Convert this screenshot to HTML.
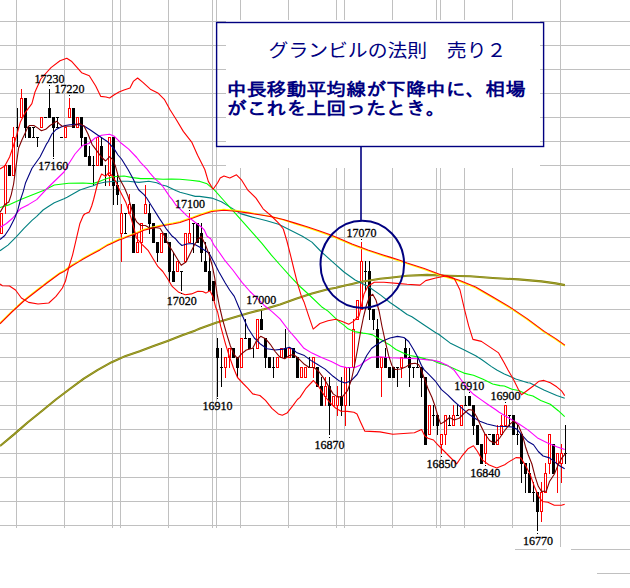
<!DOCTYPE html>
<html lang="ja">
<head>
<meta charset="utf-8">
<title>グランビルの法則 売り２</title>
<style>
html,body{margin:0;padding:0;background:#fff;}
body{width:630px;height:588px;overflow:hidden;font-family:'Liberation Sans','IPAGothic','Noto Sans CJK JP',sans-serif;}
svg{display:block;}
</style>
</head>
<body>
<svg width="630" height="588" viewBox="0 0 630 588">
<rect x="0" y="0" width="630" height="588" fill="#ffffff"/>
<g shape-rendering="crispEdges">
<rect x="0" y="21" width="630" height="1" fill="#c0c0c0"/>
<rect x="0" y="45" width="630" height="1" fill="#c0c0c0"/>
<rect x="0" y="69" width="630" height="1" fill="#c0c0c0"/>
<rect x="0" y="93" width="630" height="1" fill="#c0c0c0"/>
<rect x="0" y="117" width="630" height="1" fill="#c0c0c0"/>
<rect x="0" y="141" width="630" height="1" fill="#c0c0c0"/>
<rect x="0" y="165" width="630" height="1" fill="#c0c0c0"/>
<rect x="0" y="189" width="630" height="1" fill="#c0c0c0"/>
<rect x="0" y="213" width="630" height="1" fill="#c0c0c0"/>
<rect x="0" y="237" width="630" height="1" fill="#c0c0c0"/>
<rect x="0" y="261" width="630" height="1" fill="#c0c0c0"/>
<rect x="0" y="285" width="630" height="1" fill="#c0c0c0"/>
<rect x="0" y="309" width="630" height="1" fill="#c0c0c0"/>
<rect x="0" y="333" width="630" height="1" fill="#c0c0c0"/>
<rect x="0" y="357" width="630" height="1" fill="#c0c0c0"/>
<rect x="0" y="381" width="630" height="1" fill="#c0c0c0"/>
<rect x="0" y="405" width="630" height="1" fill="#c0c0c0"/>
<rect x="0" y="429" width="630" height="1" fill="#c0c0c0"/>
<rect x="0" y="453" width="630" height="1" fill="#c0c0c0"/>
<rect x="0" y="477" width="630" height="1" fill="#c0c0c0"/>
<rect x="0" y="501" width="630" height="1" fill="#c0c0c0"/>
<rect x="0" y="525" width="630" height="1" fill="#c0c0c0"/>
<rect x="16" y="0" width="1" height="528" fill="#c0c0c0"/>
<rect x="64" y="0" width="1" height="528" fill="#c0c0c0"/>
<rect x="112" y="0" width="1" height="528" fill="#c0c0c0"/>
<rect x="120" y="0" width="1" height="528" fill="#c0c0c0"/>
<rect x="168" y="0" width="1" height="528" fill="#c0c0c0"/>
<rect x="212" y="0" width="1" height="528" fill="#c0c0c0"/>
<rect x="216" y="0" width="1" height="528" fill="#c0c0c0"/>
<rect x="240" y="0" width="1" height="528" fill="#c0c0c0"/>
<rect x="288" y="0" width="1" height="528" fill="#c0c0c0"/>
<rect x="336" y="0" width="1" height="528" fill="#c0c0c0"/>
<rect x="344" y="0" width="1" height="528" fill="#c0c0c0"/>
<rect x="392" y="0" width="1" height="528" fill="#c0c0c0"/>
<rect x="436" y="0" width="1" height="528" fill="#c0c0c0"/>
<rect x="440" y="0" width="1" height="528" fill="#c0c0c0"/>
<rect x="464" y="0" width="1" height="528" fill="#c0c0c0"/>
<rect x="512" y="0" width="1" height="528" fill="#c0c0c0"/>
<rect x="560" y="0" width="1" height="547" fill="#c0c0c0"/>
<rect x="515" y="549" width="32" height="1" fill="#c0c0c0"/>
<rect x="571" y="549" width="59" height="1" fill="#c0c0c0"/>
<rect x="597" y="573" width="33" height="1" fill="#c0c0c0"/>
<rect x="226" y="20" width="314" height="148" fill="#fff"/>
</g>
<g shape-rendering="crispEdges">
<rect x="0" y="213" width="3" height="21" fill="#ff0000"/>
<rect x="1" y="214" width="1" height="19" fill="#fff"/>
<rect x="5" y="204" width="1" height="10" fill="#ff0000"/>
<rect x="4" y="165" width="3" height="40" fill="#ff0000"/>
<rect x="5" y="166" width="1" height="38" fill="#fff"/>
<rect x="8" y="165" width="3" height="11" fill="#000000"/>
<rect x="13" y="127" width="1" height="10" fill="#ff0000"/>
<rect x="12" y="137" width="3" height="39" fill="#ff0000"/>
<rect x="13" y="138" width="1" height="37" fill="#fff"/>
<rect x="17" y="108" width="1" height="39" fill="#000000"/>
<rect x="16" y="127" width="3" height="1" fill="#000000"/>
<rect x="21" y="89" width="1" height="9" fill="#ff0000"/>
<rect x="20" y="98" width="3" height="20" fill="#ff0000"/>
<rect x="21" y="99" width="1" height="18" fill="#fff"/>
<rect x="25" y="127" width="1" height="11" fill="#000000"/>
<rect x="24" y="98" width="3" height="30" fill="#000000"/>
<rect x="28" y="127" width="3" height="11" fill="#000000"/>
<rect x="33" y="127" width="1" height="11" fill="#000000"/>
<rect x="32" y="127" width="3" height="1" fill="#000000"/>
<rect x="32" y="137" width="3" height="1" fill="#000000"/>
<rect x="37" y="137" width="1" height="10" fill="#000000"/>
<rect x="36" y="137" width="3" height="1" fill="#000000"/>
<rect x="40" y="117" width="3" height="11" fill="#ff0000"/>
<rect x="41" y="118" width="1" height="9" fill="#fff"/>
<rect x="44" y="117" width="3" height="1" fill="#000000"/>
<rect x="49" y="89" width="1" height="19" fill="#000000"/>
<rect x="48" y="108" width="3" height="10" fill="#000000"/>
<rect x="53" y="127" width="1" height="30" fill="#000000"/>
<rect x="52" y="117" width="3" height="11" fill="#000000"/>
<rect x="57" y="117" width="1" height="11" fill="#000000"/>
<rect x="56" y="117" width="3" height="1" fill="#000000"/>
<rect x="56" y="127" width="3" height="1" fill="#000000"/>
<rect x="60" y="137" width="3" height="1" fill="#000000"/>
<rect x="64" y="127" width="3" height="11" fill="#ff0000"/>
<rect x="65" y="128" width="1" height="9" fill="#fff"/>
<rect x="69" y="98" width="1" height="10" fill="#ff0000"/>
<rect x="68" y="108" width="3" height="10" fill="#ff0000"/>
<rect x="69" y="109" width="1" height="8" fill="#fff"/>
<rect x="72" y="108" width="3" height="20" fill="#000000"/>
<rect x="76" y="117" width="3" height="11" fill="#ff0000"/>
<rect x="77" y="118" width="1" height="9" fill="#fff"/>
<rect x="81" y="137" width="1" height="10" fill="#000000"/>
<rect x="80" y="117" width="3" height="21" fill="#000000"/>
<rect x="84" y="137" width="3" height="20" fill="#000000"/>
<rect x="89" y="146" width="1" height="10" fill="#000000"/>
<rect x="88" y="156" width="3" height="10" fill="#000000"/>
<rect x="93" y="156" width="1" height="30" fill="#000000"/>
<rect x="92" y="165" width="3" height="1" fill="#000000"/>
<rect x="96" y="137" width="3" height="29" fill="#ff0000"/>
<rect x="97" y="138" width="1" height="27" fill="#fff"/>
<rect x="101" y="137" width="1" height="9" fill="#000000"/>
<rect x="100" y="146" width="3" height="20" fill="#000000"/>
<rect x="105" y="165" width="1" height="21" fill="#000000"/>
<rect x="109" y="175" width="1" height="11" fill="#ff0000"/>
<rect x="108" y="137" width="3" height="39" fill="#ff0000"/>
<rect x="109" y="138" width="1" height="37" fill="#fff"/>
<rect x="113" y="185" width="1" height="20" fill="#000000"/>
<rect x="112" y="137" width="3" height="49" fill="#000000"/>
<rect x="117" y="175" width="1" height="10" fill="#000000"/>
<rect x="117" y="194" width="1" height="11" fill="#000000"/>
<rect x="116" y="185" width="3" height="10" fill="#000000"/>
<rect x="121" y="204" width="1" height="9" fill="#ff0000"/>
<rect x="121" y="233" width="1" height="29" fill="#ff0000"/>
<rect x="120" y="213" width="3" height="21" fill="#ff0000"/>
<rect x="121" y="214" width="1" height="19" fill="#fff"/>
<rect x="125" y="213" width="1" height="21" fill="#000000"/>
<rect x="124" y="213" width="3" height="1" fill="#000000"/>
<rect x="124" y="233" width="3" height="1" fill="#000000"/>
<rect x="129" y="194" width="1" height="10" fill="#ff0000"/>
<rect x="128" y="204" width="3" height="10" fill="#ff0000"/>
<rect x="129" y="205" width="1" height="8" fill="#fff"/>
<rect x="132" y="204" width="3" height="49" fill="#000000"/>
<rect x="137" y="233" width="1" height="9" fill="#ff0000"/>
<rect x="136" y="242" width="3" height="11" fill="#ff0000"/>
<rect x="137" y="243" width="1" height="9" fill="#fff"/>
<rect x="141" y="242" width="1" height="11" fill="#ff0000"/>
<rect x="140" y="223" width="3" height="20" fill="#ff0000"/>
<rect x="141" y="224" width="1" height="18" fill="#fff"/>
<rect x="145" y="185" width="1" height="19" fill="#ff0000"/>
<rect x="144" y="204" width="3" height="10" fill="#ff0000"/>
<rect x="145" y="205" width="1" height="8" fill="#fff"/>
<rect x="149" y="204" width="1" height="9" fill="#000000"/>
<rect x="149" y="223" width="1" height="11" fill="#000000"/>
<rect x="148" y="213" width="3" height="11" fill="#000000"/>
<rect x="152" y="223" width="3" height="20" fill="#000000"/>
<rect x="157" y="252" width="1" height="10" fill="#000000"/>
<rect x="156" y="242" width="3" height="11" fill="#000000"/>
<rect x="160" y="233" width="3" height="20" fill="#ff0000"/>
<rect x="161" y="234" width="1" height="18" fill="#fff"/>
<rect x="164" y="233" width="3" height="10" fill="#000000"/>
<rect x="169" y="271" width="1" height="11" fill="#000000"/>
<rect x="168" y="242" width="3" height="30" fill="#000000"/>
<rect x="173" y="252" width="1" height="19" fill="#000000"/>
<rect x="172" y="271" width="3" height="11" fill="#000000"/>
<rect x="176" y="261" width="3" height="11" fill="#ff0000"/>
<rect x="177" y="262" width="1" height="9" fill="#fff"/>
<rect x="181" y="271" width="1" height="20" fill="#000000"/>
<rect x="180" y="271" width="3" height="1" fill="#000000"/>
<rect x="184" y="233" width="3" height="29" fill="#ff0000"/>
<rect x="185" y="234" width="1" height="27" fill="#fff"/>
<rect x="189" y="213" width="1" height="20" fill="#ff0000"/>
<rect x="188" y="233" width="3" height="10" fill="#ff0000"/>
<rect x="189" y="234" width="1" height="8" fill="#fff"/>
<rect x="193" y="223" width="1" height="30" fill="#000000"/>
<rect x="192" y="223" width="3" height="1" fill="#000000"/>
<rect x="196" y="223" width="3" height="20" fill="#000000"/>
<rect x="201" y="223" width="1" height="10" fill="#000000"/>
<rect x="201" y="252" width="1" height="10" fill="#000000"/>
<rect x="200" y="233" width="3" height="20" fill="#000000"/>
<rect x="205" y="242" width="1" height="19" fill="#000000"/>
<rect x="204" y="261" width="3" height="11" fill="#000000"/>
<rect x="209" y="252" width="1" height="19" fill="#000000"/>
<rect x="208" y="271" width="3" height="20" fill="#000000"/>
<rect x="212" y="281" width="3" height="20" fill="#000000"/>
<rect x="217" y="338" width="1" height="10" fill="#000000"/>
<rect x="217" y="357" width="1" height="40" fill="#000000"/>
<rect x="216" y="348" width="3" height="10" fill="#000000"/>
<rect x="221" y="348" width="1" height="39" fill="#000000"/>
<rect x="220" y="367" width="3" height="1" fill="#000000"/>
<rect x="225" y="367" width="1" height="11" fill="#ff0000"/>
<rect x="224" y="357" width="3" height="11" fill="#ff0000"/>
<rect x="225" y="358" width="1" height="9" fill="#fff"/>
<rect x="229" y="357" width="1" height="11" fill="#ff0000"/>
<rect x="228" y="348" width="3" height="10" fill="#ff0000"/>
<rect x="229" y="349" width="1" height="8" fill="#fff"/>
<rect x="232" y="348" width="3" height="10" fill="#000000"/>
<rect x="237" y="367" width="1" height="11" fill="#000000"/>
<rect x="236" y="357" width="3" height="11" fill="#000000"/>
<rect x="240" y="338" width="3" height="30" fill="#ff0000"/>
<rect x="241" y="339" width="1" height="28" fill="#fff"/>
<rect x="245" y="319" width="1" height="20" fill="#000000"/>
<rect x="244" y="338" width="3" height="1" fill="#000000"/>
<rect x="248" y="338" width="3" height="11" fill="#000000"/>
<rect x="253" y="348" width="1" height="10" fill="#000000"/>
<rect x="256" y="319" width="3" height="30" fill="#ff0000"/>
<rect x="257" y="320" width="1" height="28" fill="#fff"/>
<rect x="261" y="309" width="1" height="10" fill="#000000"/>
<rect x="260" y="319" width="3" height="11" fill="#000000"/>
<rect x="265" y="357" width="1" height="11" fill="#000000"/>
<rect x="264" y="338" width="3" height="20" fill="#000000"/>
<rect x="268" y="357" width="3" height="11" fill="#000000"/>
<rect x="273" y="357" width="1" height="21" fill="#000000"/>
<rect x="272" y="367" width="3" height="1" fill="#000000"/>
<rect x="276" y="357" width="3" height="11" fill="#ff0000"/>
<rect x="277" y="358" width="1" height="9" fill="#fff"/>
<rect x="280" y="348" width="3" height="10" fill="#ff0000"/>
<rect x="281" y="349" width="1" height="8" fill="#fff"/>
<rect x="285" y="329" width="1" height="19" fill="#000000"/>
<rect x="284" y="348" width="3" height="10" fill="#000000"/>
<rect x="288" y="348" width="3" height="10" fill="#ff0000"/>
<rect x="289" y="349" width="1" height="8" fill="#fff"/>
<rect x="292" y="348" width="3" height="10" fill="#000000"/>
<rect x="296" y="357" width="3" height="21" fill="#000000"/>
<rect x="300" y="367" width="3" height="11" fill="#ff0000"/>
<rect x="301" y="368" width="1" height="9" fill="#fff"/>
<rect x="304" y="367" width="3" height="11" fill="#ff0000"/>
<rect x="305" y="368" width="1" height="9" fill="#fff"/>
<rect x="309" y="357" width="1" height="11" fill="#000000"/>
<rect x="308" y="367" width="3" height="1" fill="#000000"/>
<rect x="313" y="367" width="1" height="11" fill="#ff0000"/>
<rect x="312" y="357" width="3" height="11" fill="#ff0000"/>
<rect x="313" y="358" width="1" height="9" fill="#fff"/>
<rect x="316" y="367" width="3" height="20" fill="#000000"/>
<rect x="321" y="377" width="1" height="9" fill="#000000"/>
<rect x="320" y="386" width="3" height="20" fill="#000000"/>
<rect x="325" y="377" width="1" height="9" fill="#ff0000"/>
<rect x="325" y="396" width="1" height="10" fill="#ff0000"/>
<rect x="324" y="386" width="3" height="11" fill="#ff0000"/>
<rect x="325" y="387" width="1" height="9" fill="#fff"/>
<rect x="329" y="377" width="1" height="9" fill="#000000"/>
<rect x="329" y="405" width="1" height="30" fill="#000000"/>
<rect x="328" y="386" width="3" height="20" fill="#000000"/>
<rect x="332" y="396" width="3" height="10" fill="#ff0000"/>
<rect x="333" y="397" width="1" height="8" fill="#fff"/>
<rect x="337" y="386" width="1" height="10" fill="#ff0000"/>
<rect x="337" y="405" width="1" height="11" fill="#ff0000"/>
<rect x="336" y="396" width="3" height="10" fill="#ff0000"/>
<rect x="337" y="397" width="1" height="8" fill="#fff"/>
<rect x="341" y="377" width="1" height="19" fill="#000000"/>
<rect x="341" y="405" width="1" height="11" fill="#000000"/>
<rect x="340" y="396" width="3" height="10" fill="#000000"/>
<rect x="345" y="405" width="1" height="21" fill="#ff0000"/>
<rect x="344" y="367" width="3" height="39" fill="#ff0000"/>
<rect x="345" y="368" width="1" height="37" fill="#fff"/>
<rect x="349" y="367" width="1" height="39" fill="#000000"/>
<rect x="348" y="367" width="3" height="1" fill="#000000"/>
<rect x="353" y="319" width="1" height="10" fill="#ff0000"/>
<rect x="352" y="329" width="3" height="39" fill="#ff0000"/>
<rect x="353" y="330" width="1" height="37" fill="#fff"/>
<rect x="356" y="300" width="3" height="20" fill="#ff0000"/>
<rect x="357" y="301" width="1" height="18" fill="#fff"/>
<rect x="361" y="242" width="1" height="19" fill="#ff0000"/>
<rect x="360" y="261" width="3" height="49" fill="#ff0000"/>
<rect x="361" y="262" width="1" height="47" fill="#fff"/>
<rect x="365" y="261" width="1" height="30" fill="#000000"/>
<rect x="364" y="271" width="3" height="1" fill="#000000"/>
<rect x="369" y="261" width="1" height="10" fill="#000000"/>
<rect x="369" y="309" width="1" height="11" fill="#000000"/>
<rect x="368" y="271" width="3" height="39" fill="#000000"/>
<rect x="373" y="319" width="1" height="11" fill="#000000"/>
<rect x="372" y="309" width="3" height="11" fill="#000000"/>
<rect x="377" y="319" width="1" height="10" fill="#000000"/>
<rect x="376" y="329" width="3" height="39" fill="#000000"/>
<rect x="381" y="367" width="1" height="30" fill="#ff0000"/>
<rect x="380" y="357" width="3" height="11" fill="#ff0000"/>
<rect x="381" y="358" width="1" height="9" fill="#fff"/>
<rect x="385" y="348" width="1" height="9" fill="#000000"/>
<rect x="384" y="357" width="3" height="11" fill="#000000"/>
<rect x="388" y="367" width="3" height="11" fill="#000000"/>
<rect x="392" y="367" width="3" height="11" fill="#000000"/>
<rect x="397" y="367" width="1" height="20" fill="#000000"/>
<rect x="396" y="367" width="3" height="1" fill="#000000"/>
<rect x="401" y="367" width="1" height="11" fill="#ff0000"/>
<rect x="400" y="357" width="3" height="11" fill="#ff0000"/>
<rect x="401" y="358" width="1" height="9" fill="#fff"/>
<rect x="405" y="338" width="1" height="10" fill="#000000"/>
<rect x="404" y="348" width="3" height="10" fill="#000000"/>
<rect x="409" y="348" width="1" height="9" fill="#000000"/>
<rect x="409" y="367" width="1" height="20" fill="#000000"/>
<rect x="408" y="357" width="3" height="11" fill="#000000"/>
<rect x="413" y="367" width="1" height="11" fill="#000000"/>
<rect x="412" y="367" width="3" height="1" fill="#000000"/>
<rect x="417" y="357" width="1" height="11" fill="#000000"/>
<rect x="416" y="367" width="3" height="1" fill="#000000"/>
<rect x="421" y="377" width="1" height="20" fill="#000000"/>
<rect x="420" y="367" width="3" height="11" fill="#000000"/>
<rect x="424" y="377" width="3" height="68" fill="#000000"/>
<rect x="428" y="405" width="3" height="30" fill="#ff0000"/>
<rect x="429" y="406" width="1" height="28" fill="#fff"/>
<rect x="433" y="405" width="1" height="21" fill="#000000"/>
<rect x="432" y="415" width="3" height="1" fill="#000000"/>
<rect x="437" y="425" width="1" height="10" fill="#000000"/>
<rect x="436" y="415" width="3" height="11" fill="#000000"/>
<rect x="441" y="444" width="1" height="10" fill="#ff0000"/>
<rect x="440" y="434" width="3" height="11" fill="#ff0000"/>
<rect x="441" y="435" width="1" height="9" fill="#fff"/>
<rect x="445" y="434" width="1" height="11" fill="#ff0000"/>
<rect x="444" y="415" width="3" height="20" fill="#ff0000"/>
<rect x="445" y="416" width="1" height="18" fill="#fff"/>
<rect x="449" y="415" width="1" height="11" fill="#000000"/>
<rect x="448" y="425" width="3" height="1" fill="#000000"/>
<rect x="453" y="405" width="1" height="10" fill="#ff0000"/>
<rect x="452" y="415" width="3" height="11" fill="#ff0000"/>
<rect x="453" y="416" width="1" height="9" fill="#fff"/>
<rect x="457" y="405" width="1" height="11" fill="#000000"/>
<rect x="456" y="415" width="3" height="1" fill="#000000"/>
<rect x="460" y="405" width="3" height="21" fill="#ff0000"/>
<rect x="461" y="406" width="1" height="19" fill="#fff"/>
<rect x="465" y="396" width="1" height="10" fill="#000000"/>
<rect x="464" y="405" width="3" height="1" fill="#000000"/>
<rect x="468" y="396" width="3" height="10" fill="#000000"/>
<rect x="473" y="425" width="1" height="10" fill="#000000"/>
<rect x="472" y="405" width="3" height="21" fill="#000000"/>
<rect x="476" y="425" width="3" height="20" fill="#000000"/>
<rect x="480" y="444" width="3" height="20" fill="#000000"/>
<rect x="485" y="453" width="1" height="11" fill="#ff0000"/>
<rect x="484" y="434" width="3" height="20" fill="#ff0000"/>
<rect x="485" y="435" width="1" height="18" fill="#fff"/>
<rect x="488" y="434" width="3" height="1" fill="#000000"/>
<rect x="492" y="434" width="3" height="11" fill="#000000"/>
<rect x="497" y="425" width="1" height="9" fill="#ff0000"/>
<rect x="496" y="434" width="3" height="11" fill="#ff0000"/>
<rect x="497" y="435" width="1" height="9" fill="#fff"/>
<rect x="501" y="415" width="1" height="10" fill="#ff0000"/>
<rect x="500" y="425" width="3" height="10" fill="#ff0000"/>
<rect x="501" y="426" width="1" height="8" fill="#fff"/>
<rect x="504" y="405" width="3" height="21" fill="#ff0000"/>
<rect x="505" y="406" width="1" height="19" fill="#fff"/>
<rect x="509" y="415" width="1" height="11" fill="#000000"/>
<rect x="508" y="415" width="3" height="1" fill="#000000"/>
<rect x="512" y="415" width="3" height="20" fill="#000000"/>
<rect x="517" y="425" width="1" height="20" fill="#000000"/>
<rect x="516" y="434" width="3" height="1" fill="#000000"/>
<rect x="521" y="463" width="1" height="20" fill="#000000"/>
<rect x="520" y="434" width="3" height="30" fill="#000000"/>
<rect x="525" y="473" width="1" height="20" fill="#000000"/>
<rect x="524" y="463" width="3" height="11" fill="#000000"/>
<rect x="529" y="463" width="1" height="10" fill="#000000"/>
<rect x="528" y="473" width="3" height="20" fill="#000000"/>
<rect x="533" y="482" width="1" height="20" fill="#000000"/>
<rect x="532" y="492" width="3" height="1" fill="#000000"/>
<rect x="537" y="511" width="1" height="20" fill="#000000"/>
<rect x="536" y="492" width="3" height="20" fill="#000000"/>
<rect x="541" y="482" width="1" height="10" fill="#ff0000"/>
<rect x="541" y="511" width="1" height="11" fill="#ff0000"/>
<rect x="540" y="492" width="3" height="20" fill="#ff0000"/>
<rect x="541" y="493" width="1" height="18" fill="#fff"/>
<rect x="545" y="463" width="1" height="10" fill="#ff0000"/>
<rect x="544" y="473" width="3" height="20" fill="#ff0000"/>
<rect x="545" y="474" width="1" height="18" fill="#fff"/>
<rect x="549" y="463" width="1" height="11" fill="#ff0000"/>
<rect x="548" y="434" width="3" height="30" fill="#ff0000"/>
<rect x="549" y="435" width="1" height="28" fill="#fff"/>
<rect x="552" y="444" width="3" height="30" fill="#000000"/>
<rect x="557" y="463" width="1" height="30" fill="#ff0000"/>
<rect x="556" y="453" width="3" height="11" fill="#ff0000"/>
<rect x="557" y="454" width="1" height="9" fill="#fff"/>
<rect x="561" y="444" width="1" height="9" fill="#ff0000"/>
<rect x="561" y="463" width="1" height="20" fill="#ff0000"/>
<rect x="560" y="453" width="3" height="11" fill="#ff0000"/>
<rect x="561" y="454" width="1" height="9" fill="#fff"/>
<rect x="565" y="425" width="1" height="39" fill="#000000"/>
<rect x="564" y="453" width="3" height="1" fill="#000000"/>
</g>
<g>
<polyline points="0.0,446.0 14.0,434.4 27.9,422.2 41.9,411.0 55.9,399.5 69.8,389.0 83.8,378.6 97.8,369.8 111.7,362.2 125.7,355.9 139.7,351.3 153.6,346.1 167.6,340.9 181.6,335.6 195.5,330.4 200.0,328.5 216.0,322.7 232.0,318.0 248.0,313.2 264.0,309.2 280.0,304.4 296.0,298.8 312.0,293.6 327.9,289.2 336.0,287.7 343.9,285.7 352.0,283.9 359.9,282.0 367.9,280.7 380.0,278.8 390.0,277.7 407.1,275.7 427.1,274.9 447.1,275.7 470.0,276.3 492.9,278.0 518.6,279.4 541.4,281.4 555.7,283.4 564.9,285.1" fill="none" stroke="#808000" stroke-width="2.1" stroke-linejoin="round" />
<polyline points="0.0,446.0 14.0,434.4 27.9,422.2 41.9,411.0 55.9,399.5 69.8,389.0 83.8,378.6 97.8,369.8 111.7,362.2 125.7,355.9 139.7,351.3 153.6,346.1 167.6,340.9 181.6,335.6 195.5,330.4 200.0,328.5 216.0,322.7 232.0,318.0 248.0,313.2 264.0,309.2 280.0,304.4 296.0,298.8 312.0,293.6 327.9,289.2 336.0,287.7 343.9,285.7 352.0,283.9 359.9,282.0 367.9,280.7 380.0,278.8 390.0,277.7 407.1,275.7 427.1,274.9 447.1,275.7 470.0,276.3 492.9,278.0 518.6,279.4 541.4,281.4 555.7,283.4 564.9,285.1" fill="none" stroke="#c0c070" stroke-width="0.5" stroke-linejoin="round" />
<polyline points="0.0,250.7 8.0,245.1 16.0,237.1 24.0,228.3 32.0,220.4 36.7,216.3 43.1,210.0 48.0,206.7 54.3,202.8 64.0,198.7 67.1,197.2 79.9,190.0 89.6,186.7 92.6,186.0 97.6,183.7 105.6,182.0 116.7,181.2 128.0,181.2 139.0,182.4 148.7,181.3 156.7,182.7 161.9,185.0 166.3,186.0 175.8,190.5 180.0,192.3 186.7,194.0 195.2,196.4 199.5,196.4 211.9,198.1 221.4,201.7 231.0,207.6 240.5,213.6 252.4,217.1 266.7,220.7 278.6,224.3 290.5,230.2 302.4,236.2 311.9,242.1 321.5,252.0 332.0,261.3 344.0,272.0 355.1,280.0 367.9,286.3 380.7,295.1 390.0,302.5 399.1,308.8 407.1,314.5 411.9,316.8 424.5,325.3 435.8,332.7 438.6,334.3 450.0,342.9 464.3,350.0 475.7,355.7 482.3,360.0 491.1,366.4 496.8,370.0 504.3,374.0 512.0,377.2 515.7,379.0 527.9,382.8 530.0,383.0 543.9,390.0 556.7,395.6 564.7,398.2" fill="none" stroke="#008080" stroke-width="1.1" stroke-linejoin="round" />
<polyline points="0.0,207.5 9.6,204.6 20.8,199.4 32.0,195.0 44.7,190.0 54.3,185.0 68.7,183.2 83.0,183.0 92.7,183.6 98.3,181.9 104.0,179.5 112.7,176.8 124.0,176.0 132.7,177.6 140.7,178.6 151.9,178.6 163.0,179.3 171.4,179.0 180.0,179.2 190.5,180.2 200.0,181.4 207.1,183.8 214.3,189.8 223.8,200.5 233.3,211.2 242.9,221.9 252.4,232.6 261.9,243.3 271.4,255.2 281.0,266.0 290.5,276.7 300.0,286.5 308.8,294.5 321.5,306.7 328.0,311.1 334.3,317.1 340.0,322.4 343.9,325.1 348.0,328.8 351.9,330.5 356.0,331.9 363.1,333.1 367.5,333.7 372.7,334.9 376.7,337.5 382.7,340.6 386.3,343.1 390.0,345.1 395.9,349.5 404.3,353.5 410.0,355.5 418.6,357.1 426.3,359.1 432.9,360.5 438.3,362.9 447.5,365.7 455.9,369.6 463.9,373.1 473.5,375.2 483.1,379.2 492.7,384.0 500.0,385.6 504.3,386.0 512.0,389.2 518.6,390.5 527.9,394.8 532.9,396.0 540.7,400.4 550.3,404.3 558.3,410.7 564.7,416.6" fill="none" stroke="#00ff00" stroke-width="1.1" stroke-linejoin="round" />
<polyline points="0.0,322.9 11.9,311.1 23.8,300.1 35.7,290.8 46.3,282.6 59.5,272.9 63.9,270.6 71.4,265.3 79.9,260.2 83.3,258.1 95.2,251.5 100.0,249.0 107.0,244.7 110.0,243.4 119.0,239.1 122.8,237.8 128.0,235.7 135.6,233.0 144.0,229.4 148.3,228.2 160.0,225.3 172.7,223.1 180.0,221.6 183.5,220.3 193.0,217.1 201.0,214.1 211.9,210.6 223.8,209.3 235.7,210.3 247.6,212.2 259.5,214.5 271.4,216.7 283.3,219.9 295.2,223.9 307.1,227.6 319.0,231.6 331.0,235.9 341.6,240.4 352.0,244.9 361.4,248.4 367.9,250.8 383.9,256.1 390.0,258.0 399.9,261.2 407.1,263.8 424.3,269.5 441.4,275.8 458.6,280.9 475.7,288.0 492.9,298.0 510.0,308.0 527.1,319.5 544.3,332.3 555.7,339.5 564.9,346.0" fill="none" stroke="#ffff00" stroke-width="1.2" stroke-linejoin="round" />
<polyline points="0.0,323.8 11.9,312.0 23.8,301.0 35.7,291.7 46.3,283.5 59.5,273.8 63.9,271.5 71.4,266.2 79.9,261.1 83.3,259.0 95.2,252.4 100.0,249.9 107.0,245.6 110.0,244.3 119.0,240.0 122.8,238.7 128.0,236.6 135.6,233.9 144.0,230.3 148.3,229.1 160.0,226.2 172.7,224.0 180.0,222.5 183.5,221.2 193.0,218.0 201.0,215.0 211.9,211.5 223.8,210.2 235.7,211.2 247.6,212.9 259.5,214.8 271.4,216.7 283.3,219.5 295.2,223.1 307.1,226.7 319.0,230.7 331.0,235.0 341.6,239.5 352.0,244.0 361.4,247.5 367.9,249.9 383.9,255.2 390.0,257.1 399.9,260.3 407.1,262.9 424.3,268.6 441.4,274.9 458.6,280.0 475.7,287.1 492.9,297.1 510.0,307.1 527.1,318.6 544.3,331.4 555.7,338.6 564.9,345.1" fill="none" stroke="#ff0000" stroke-width="1.1" stroke-linejoin="round" />
<polyline points="0.0,227.5 6.4,223.5 12.8,218.0 20.8,208.4 28.8,204.4 36.7,199.6 48.0,187.5 64.0,172.0 68.0,165.0 75.0,154.0 82.4,145.6 88.8,143.5 95.1,138.0 101.5,135.2 109.5,134.2 114.3,136.3 120.7,142.7 128.7,149.1 136.7,157.5 140.5,162.4 147.0,169.2 150.0,173.1 155.0,178.8 159.5,182.6 163.0,186.7 166.7,192.1 169.5,196.3 172.3,199.6 175.8,205.0 178.7,207.6 186.7,215.6 194.7,222.0 201.0,226.7 204.3,230.0 207.1,236.2 210.7,238.8 214.3,245.7 217.1,249.2 224.4,259.8 233.2,270.5 242.0,282.3 250.0,291.5 256.0,297.2 264.0,305.2 272.0,311.6 280.0,318.8 288.0,329.5 296.0,338.7 304.0,348.3 312.0,353.1 321.5,357.6 331.3,361.6 341.1,366.4 347.5,367.7 355.5,367.3 360.5,364.9 365.3,361.0 371.5,357.2 379.5,356.8 391.1,357.8 403.9,358.3 416.7,358.8 427.9,359.9 432.0,360.0 439.9,361.9 447.9,365.6 454.3,370.4 460.7,379.2 467.1,388.0 473.5,394.3 479.9,398.9 487.9,404.5 495.8,409.8 499.2,412.3 508.8,417.9 518.3,423.5 527.9,429.9 537.5,437.9 547.1,442.7 556.7,446.7 564.7,449.6" fill="none" stroke="#ff00ff" stroke-width="1.1" stroke-linejoin="round" />
<polyline points="0.0,239.5 4.8,235.5 9.6,228.3 14.4,218.8 17.6,210.8 20.4,200.0 23.2,191.6 25.6,182.7 32.0,168.3 40.0,157.0 46.3,144.4 48.1,141.7 51.9,134.0 55.7,129.8 60.5,127.2 65.2,125.5 70.0,124.7 76.0,124.3 84.0,126.0 90.4,130.0 98.3,135.5 108.0,142.0 114.3,149.1 118.0,155.0 121.5,159.0 128.0,169.5 132.7,178.0 136.0,185.1 138.8,190.0 144.0,194.7 146.7,198.0 151.9,206.5 159.5,218.6 165.9,228.3 172.3,236.3 175.6,238.8 178.7,242.7 181.9,245.5 186.7,244.0 193.0,243.5 199.5,247.0 205.8,251.0 209.1,253.2 213.9,262.0 218.7,271.5 225.1,282.7 229.6,290.0 234.3,296.4 238.3,306.0 243.1,317.2 248.0,328.3 254.3,338.0 260.7,344.3 267.1,348.8 275.1,350.0 283.1,349.1 289.5,347.2 294.3,350.5 296.4,352.4 304.4,355.6 310.8,360.4 317.2,364.3 325.1,369.1 333.1,376.3 339.5,381.1 345.1,383.0 350.7,381.1 357.1,374.5 362.0,365.0 366.7,355.5 371.5,348.5 376.3,345.0 382.7,341.0 390.0,338.0 397.5,336.4 403.9,337.5 408.7,341.5 413.5,349.5 418.3,358.3 421.5,365.5 424.0,369.6 428.8,374.4 435.1,380.8 441.5,389.6 447.9,395.1 454.3,401.5 460.7,407.1 467.1,412.7 473.5,417.5 479.9,421.3 487.1,424.0 496.7,426.3 506.3,426.5 512.0,427.0 516.7,429.1 523.1,436.3 527.9,441.5 533.5,444.8 538.3,451.5 543.1,456.0 549.5,457.9 554.3,461.6 559.1,465.6 564.7,468.8" fill="none" stroke="#000080" stroke-width="1.1" stroke-linejoin="round" />
<polyline points="0.0,169.0 4.8,166.0 9.6,157.0 12.8,147.6 16.0,137.5 20.5,121.7 25.2,112.6 31.9,103.6 35.0,92.0 40.8,79.0 51.0,67.6 60.0,60.7 66.8,58.2 71.4,61.2 76.5,66.8 81.6,72.7 89.3,75.8 95.7,86.0 100.8,96.4 106.0,97.0 109.6,98.0 114.3,94.8 119.0,92.0 124.0,90.0 130.0,88.0 133.3,81.4 137.6,78.0 142.9,82.4 150.3,89.2 158.3,93.3 164.3,99.3 170.2,110.0 176.2,119.5 183.3,131.4 191.7,142.1 197.6,155.2 204.8,169.5 208.3,181.4 213.1,189.3 217.5,183.0 220.2,178.0 224.0,176.0 229.8,177.9 236.5,174.8 241.7,180.2 247.6,189.8 256.0,198.1 263.1,208.8 271.4,216.0 278.6,223.1 283.3,229.0 286.9,241.0 290.5,255.2 294.0,269.5 297.6,283.8 301.2,295.7 304.0,301.9 308.8,316.3 313.2,329.1 319.9,323.5 327.9,320.8 335.9,319.2 342.3,321.4 348.7,324.3 353.5,321.4 356.7,318.0 359.1,316.0 361.5,305.5 363.9,294.3 367.9,286.3 374.3,282.3 383.9,282.3 399.9,283.6 407.1,284.3 420.0,285.1 425.7,280.6 435.7,278.0 447.1,275.7 454.3,278.6 460.0,290.0 464.3,308.6 468.6,325.7 472.9,339.4 481.4,341.4 490.0,347.1 498.6,352.9 504.3,362.9 508.0,370.0 513.5,379.6 518.3,389.2 521.5,394.8 527.9,390.0 534.3,385.2 539.1,381.2 543.9,380.4 550.3,382.8 556.7,386.8 561.5,390.8 564.7,395.6" fill="none" stroke="#ff0000" stroke-width="1.1" stroke-linejoin="round" />
<polyline points="0.0,284.0 2.4,285.7 9.5,286.0 15.5,290.0 21.4,298.0 28.6,302.4 38.0,304.0 48.8,303.0 56.0,296.4 62.4,288.0 65.5,281.0 69.0,266.7 72.6,254.8 76.2,239.3 79.8,223.8 83.3,215.5 84.7,214.0 89.3,212.0 91.7,206.0 93.6,199.5 97.6,183.5 101.6,174.0 105.6,176.4 108.8,172.4 112.0,175.6 116.0,182.0 120.0,191.0 126.0,202.8 130.8,217.2 134.0,228.3 136.4,238.0 142.0,244.3 148.3,250.7 153.1,258.7 158.0,266.7 162.8,271.5 167.6,278.7 172.4,286.7 178.8,292.3 185.1,294.7 191.5,293.9 197.9,291.2 202.7,291.5 205.9,293.1 209.9,290.7 213.1,297.1 215.5,306.7 217.6,312.0 220.8,326.7 225.6,344.3 229.6,357.1 233.5,368.0 237.5,377.5 243.1,383.5 247.9,388.3 252.7,393.9 259.9,395.5 265.5,400.3 271.9,408.3 278.3,413.9 282.3,415.2 287.0,413.1 292.7,405.9 297.4,399.5 300.0,397.4 306.0,388.3 313.4,380.5 318.8,386.7 324.3,395.5 330.0,402.7 335.5,408.0 341.1,411.3 347.5,411.4 353.9,412.3 357.0,414.0 360.5,422.0 364.7,431.1 379.9,431.9 392.7,434.3 400.0,433.8 414.4,432.7 421.6,429.5 424.8,436.0 428.0,438.3 433.5,440.0 437.6,444.7 444.0,451.0 450.4,457.5 456.7,463.9 461.5,456.7 467.9,448.8 473.5,445.8 477.5,451.5 482.3,459.9 488.7,464.7 496.7,467.9 504.7,464.7 508.0,462.4 516.0,457.6 520.8,457.9 525.6,465.6 530.4,475.1 534.3,486.3 538.3,495.9 542.3,501.5 547.9,502.3 554.3,505.2 561.5,505.2 564.7,504.2" fill="none" stroke="#ff0000" stroke-width="1.1" stroke-linejoin="round" />
<polyline points="0.0,212.4 4.8,204.4 8.8,202.0 11.2,194.8 13.6,184.0 16.0,166.7 18.6,148.0 22.0,139.7 25.2,133.1 27.6,127.4 29.5,125.5 33.8,125.5 37.6,127.9 41.4,130.7 45.7,129.3 50.0,125.5 53.8,123.1 56.7,121.2 59.0,123.6 61.9,126.0 66.4,126.2 72.8,126.0 79.2,123.5 84.0,126.0 88.0,134.0 92.0,144.3 96.7,150.7 101.3,157.0 105.6,161.0 109.6,156.6 112.7,159.6 115.5,166.3 118.3,176.3 120.8,181.0 124.7,188.3 128.0,196.3 131.0,206.7 133.5,215.5 136.7,221.9 140.7,225.5 145.3,225.5 150.2,228.3 155.0,227.5 160.0,228.3 163.0,233.0 166.0,239.6 169.1,245.9 172.4,250.8 177.2,258.8 181.2,265.3 186.0,262.0 190.7,252.5 194.7,244.3 197.9,239.5 201.3,236.5 205.3,244.4 209.1,254.5 212.3,265.9 214.7,277.9 217.1,293.9 219.4,306.0 222.4,318.8 226.4,333.1 230.4,346.0 234.3,354.7 237.5,358.7 241.5,353.9 246.3,350.0 252.7,348.3 256.7,340.3 260.7,336.3 265.5,338.7 270.3,344.3 275.1,351.5 279.9,357.1 284.7,358.7 289.5,355.5 293.5,354.5 297.4,357.5 299.6,359.6 304.4,364.3 309.2,367.5 314.0,367.5 318.8,371.5 323.5,377.9 328.3,385.9 333.1,393.9 337.9,397.1 342.7,396.3 347.5,390.7 351.5,379.5 354.6,365.0 357.7,348.5 360.8,330.4 363.5,317.0 366.5,305.0 369.5,296.7 372.7,294.3 375.9,299.9 379.1,311.0 381.9,326.0 385.6,342.8 388.7,355.9 391.9,365.5 395.1,369.5 400.7,369.0 405.5,367.1 410.3,363.9 415.1,363.3 418.5,364.5 421.0,369.0 424.0,377.6 428.0,388.8 432.0,397.5 435.1,406.3 438.3,417.5 440.7,423.9 444.7,421.5 449.5,417.5 454.3,419.9 459.1,418.3 463.9,413.5 468.7,409.5 472.7,410.3 476.7,416.7 480.7,425.5 484.8,433.7 489.6,440.5 494.4,443.3 499.2,438.7 504.0,431.5 508.8,425.1 513.5,421.1 518.3,425.1 522.3,434.7 525.5,446.7 528.3,455.0 531.9,464.0 535.1,476.7 538.3,486.3 541.5,491.4 546.3,491.1 549.5,481.5 554.3,474.3 557.5,466.4 561.5,458.4 565.5,453.6" fill="none" stroke="#800000" stroke-width="1.1" stroke-linejoin="round" />
</g>
<line x1="361" y1="146" x2="361" y2="221" stroke="#000080" stroke-width="1.6"/>
<ellipse cx="362.3" cy="264.3" rx="41.8" ry="43.6" fill="none" stroke="#000080" stroke-width="2"/>
<rect x="216.6" y="22.5" width="327" height="124" fill="none" stroke="#000080" stroke-width="1.4"/>
<text transform="translate(268.6,57.3) scale(1.083,1)" font-family="'Liberation Sans','Noto Sans CJK JP','IPAGothic',sans-serif" font-size="18.3" font-weight="400" fill="#000080" xml:space="preserve">グランビルの法則　売り２</text>
<text transform="translate(226.8,95.6) scale(1.083,1)" font-family="'Liberation Sans','IPAGothic','Noto Sans CJK JP',sans-serif" font-size="18.4" font-weight="bold" fill="#000080">中長移動平均線が下降中に、相場</text>
<text transform="translate(226.8,114.6) scale(1.083,1)" font-family="'Liberation Sans','IPAGothic','Noto Sans CJK JP',sans-serif" font-size="18.4" font-weight="bold" fill="#000080">がこれを上回ったとき。</text>
<text x="34.6" y="82.6" font-family="'Liberation Serif',serif" font-size="12" fill="#000" stroke="#000" stroke-width="0.3">17230</text>
<rect x="49" y="85" width="1" height="1" fill="#000" shape-rendering="crispEdges"/>
<text x="54.6" y="92.9" font-family="'Liberation Serif',serif" font-size="12" fill="#000" stroke="#000" stroke-width="0.3">17220</text>
<rect x="69" y="95" width="1" height="1" fill="#000" shape-rendering="crispEdges"/>
<text x="38.3" y="170.0" font-family="'Liberation Serif',serif" font-size="12" fill="#000" stroke="#000" stroke-width="0.3">17160</text>
<rect x="53" y="158" width="1" height="1" fill="#000" shape-rendering="crispEdges"/>
<text x="175.0" y="207.7" font-family="'Liberation Serif',serif" font-size="12" fill="#000" stroke="#000" stroke-width="0.3">17100</text>
<rect x="189" y="210" width="1" height="1" fill="#000" shape-rendering="crispEdges"/>
<text x="166.8" y="304.9" font-family="'Liberation Serif',serif" font-size="12" fill="#000" stroke="#000" stroke-width="0.3">17020</text>
<rect x="181" y="293" width="1" height="1" fill="#000" shape-rendering="crispEdges"/>
<text x="246.3" y="303.7" font-family="'Liberation Serif',serif" font-size="12" fill="#000" stroke="#000" stroke-width="0.3">17000</text>
<rect x="261" y="306" width="1" height="1" fill="#000" shape-rendering="crispEdges"/>
<text x="202.4" y="409.5" font-family="'Liberation Serif',serif" font-size="12" fill="#000" stroke="#000" stroke-width="0.3">16910</text>
<rect x="217" y="398" width="1" height="1" fill="#000" shape-rendering="crispEdges"/>
<text x="346.6" y="236.5" font-family="'Liberation Serif',serif" font-size="12" fill="#000" stroke="#000" stroke-width="0.3">17070</text>
<rect x="361" y="239" width="1" height="1" fill="#000" shape-rendering="crispEdges"/>
<text x="314.4" y="448.7" font-family="'Liberation Serif',serif" font-size="12" fill="#000" stroke="#000" stroke-width="0.3">16870</text>
<rect x="329" y="437" width="1" height="1" fill="#000" shape-rendering="crispEdges"/>
<text x="454.3" y="389.7" font-family="'Liberation Serif',serif" font-size="12" fill="#000" stroke="#000" stroke-width="0.3">16910</text>
<rect x="469" y="392" width="1" height="1" fill="#000" shape-rendering="crispEdges"/>
<text x="490.4" y="399.7" font-family="'Liberation Serif',serif" font-size="12" fill="#000" stroke="#000" stroke-width="0.3">16900</text>
<rect x="505" y="402" width="1" height="1" fill="#000" shape-rendering="crispEdges"/>
<text x="426.4" y="467.7" font-family="'Liberation Serif',serif" font-size="12" fill="#000" stroke="#000" stroke-width="0.3">16850</text>
<rect x="441" y="456" width="1" height="1" fill="#000" shape-rendering="crispEdges"/>
<text x="470.3" y="477.3" font-family="'Liberation Serif',serif" font-size="12" fill="#000" stroke="#000" stroke-width="0.3">16840</text>
<rect x="485" y="465" width="1" height="1" fill="#000" shape-rendering="crispEdges"/>
<text x="522.9" y="544.8" font-family="'Liberation Serif',serif" font-size="12" fill="#000" stroke="#000" stroke-width="0.3">16770</text>
<rect x="537" y="533" width="1" height="1" fill="#000" shape-rendering="crispEdges"/>
</svg>
</body>
</html>
